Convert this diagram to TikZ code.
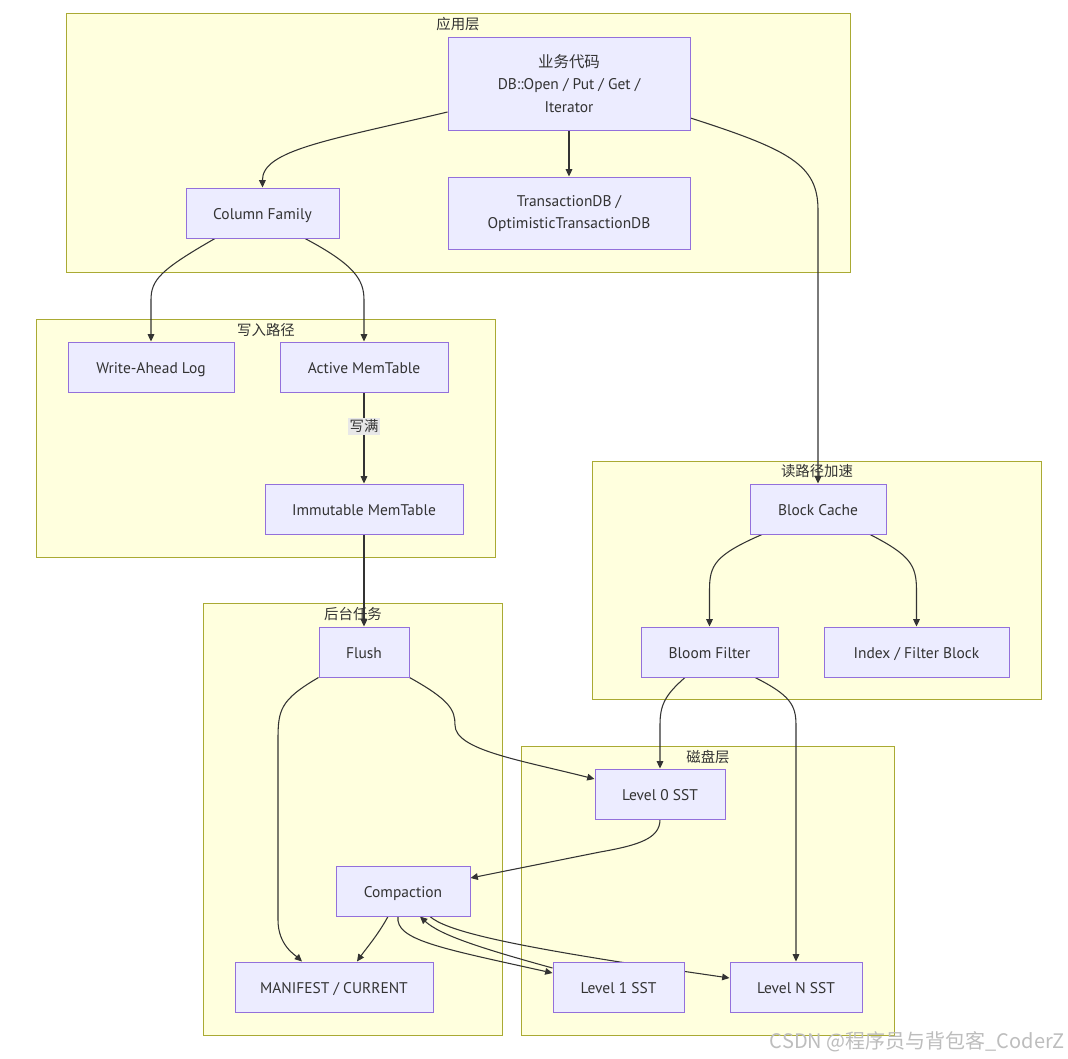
\documentclass[tikz,border=0pt]{standalone}
\usepackage{fontspec}
\setmainfont{PT Sans}
\newfontfamily\cjk{Noto Sans CJK SC}
\usetikzlibrary{arrows.meta,calc}
\definecolor{clFill}{HTML}{FFFFDE}
\definecolor{clDraw}{HTML}{AAAA33}
\definecolor{ndFill}{HTML}{ECECFF}
\definecolor{ndDraw}{HTML}{9370DB}
\definecolor{txt}{HTML}{333333}
\definecolor{lblFill}{HTML}{E8E8E8}
\definecolor{wmk}{HTML}{BDBDBD}
\pgfdeclarelayer{bg}\pgfdeclarelayer{edges}\pgfsetlayers{bg,edges,main}
\begin{document}
\begin{tikzpicture}[x=0.75pt,y=-0.75pt,
 box/.style={draw=ndDraw, fill=ndFill, line width=0.75pt, text=txt, align=center, inner sep=0pt, font=\fontsize{11.6}{16.9}\selectfont},
 one/.style={text height=1.1em, text depth=0.2em},
 sz/.style 2 args={minimum width=#1*0.75pt, minimum height=#2*0.75pt},
 cluster/.style={draw=clDraw, fill=clFill, line width=0.75pt},
 ctitle/.style={text=txt, font=\cjk\fontsize{10.8}{13}\selectfont, inner sep=0pt},
 edge/.style={draw=txt, line width=0.8pt, -{Triangle[length=5.5pt,width=5pt]}},
 elabel/.style={fill=lblFill, text=txt, font=\cjk\fontsize{10.8}{13}\selectfont, inner sep=1.5pt},
]
\begin{pgfonlayer}{bg}
\path[use as bounding box, fill=white] (0,0) rectangle (1068,1058);
% clusters
\path[cluster] (66,13) rectangle (850,272);
\path[cluster] (36,319) rectangle (495,557);
\path[cluster] (592,461) rectangle (1041,699);
\path[cluster] (203,603) rectangle (502,1035);
\path[cluster] (521,746) rectangle (894,1035);
\end{pgfonlayer}
\node[ctitle] (t1) at (458,24) {应用层};
\node[ctitle] (t2) at (266,330) {写入路径};
\node[ctitle] (t3) at (817,471) {读路径加速};
\node[ctitle] (t4) at (353,614) {后台任务};
\node[ctitle] (t5) at (708,757) {磁盘层};

% nodes
\node[box, sz={242}{93}] (app) at (569,83.5) {{\cjk 业务代码}\\DB::Open / Put / Get /\\Iterator};
\node[box, one, sz={153}{50}] (cf) at (262.5,213) {Column Family};
\node[box, sz={242}{72}] (txn) at (569,213) {\raisebox{-1.5pt}{\begin{tabular}{@{}c@{}}TransactionDB /\\OptimisticTransactionDB\end{tabular}}};
\node[box, one, sz={166}{50}] (wal) at (151,367) {Write-Ahead Log};
\node[box, one, sz={168}{50}] (act) at (364,367) {Active MemTable};
\node[box, one, sz={198}{50}] (imm) at (364,509) {Immutable MemTable};
\node[box, one, sz={136}{50}] (bc) at (818,509) {Block Cache};
\node[box, one, sz={137}{50}] (bloom) at (709.5,652) {Bloom Filter};
\node[box, one, sz={185}{50}] (idx) at (916.5,652) {Index / Filter Block};
\node[box, one, sz={90}{50}] (flush) at (364,652) {Flush};
\node[box, one, sz={130}{50}] (l0) at (660,794) {Level 0 SST};
\node[box, one, sz={134}{50}] (comp) at (403,891) {Compaction};
\node[box, one, sz={198}{50}] (man) at (334,987) {MANIFEST / CURRENT};
\node[box, one, sz={131}{50}] (l1) at (618.5,987) {Level 1 SST};
\node[box, one, sz={132}{50}] (ln) at (796,987) {Level N SST};

% edges
\begin{pgfonlayer}{edges}
\draw[edge] ($(app.west)+(0,28.5)$) .. controls (330,140) and (262,150) .. (cf.north);
\draw[edge] (app.south) -- (txn.north);
\draw[edge] ($(app.east)+(0,34.5)$) .. controls (790,150) and (818,165) .. (818,210) -- (bc.north);
\draw[edge] ($(cf.south)+(-47.5,0)$) .. controls (160,270) and (151,280) .. (151,300) -- (wal.north);
\draw[edge] ($(cf.south)+(42.5,0)$) .. controls (355,265) and (364,280) .. (364,300) -- (act.north);
\draw[edge] (act.south) -- node[elabel, pos=0.37] (lbl) {写满} (imm.north);
\draw[edge] (imm.south) -- (flush.north);
\draw[edge] ($(bc.south)+(-56,0)$) .. controls (715,555) and (709.5,565) .. (709.5,590) -- (bloom.north);
\draw[edge] ($(bc.south)+(52,0)$) .. controls (910,555) and (916.5,565) .. (916.5,590) -- (idx.north);
\draw[edge] (flush.south west) .. controls (280,700) and (278,710) .. (278,740) -- (278,920) .. controls (278,945) and (295,955) .. ($(man.north)+(-32,0)$);
\draw[edge] (flush.south east) .. controls (450,700) and (455,710) .. (455,725) .. controls (455,750) and (520,760) .. ($(l0.west)+(0,-15)$);
\draw[edge] ($(bloom.south)+(-24.5,0)$) .. controls (665,695) and (660,705) .. (660,725) -- (l0.north);
\draw[edge] ($(bloom.south)+(45.5,0)$) .. controls (790,695) and (796,705) .. (796,725) -- (ln.north);
\draw[edge] (l0.south) .. controls (660,838) and (640,845) .. (600,852) -- ($(comp.east)+(0,-13)$);
\draw[edge] ($(comp.south)+(-15,0)$) .. controls (378,935) and (365,950) .. ($(man.north)+(23,0)$);
\draw[edge] ($(comp.south)+(-5,0)$) .. controls (395,940) and (440,948) .. ($(l1.west)+(0,-14)$);
\draw[edge] ($(l1.west)+(0,-19)$) .. controls (480,948) and (440,935) .. ($(comp.south)+(17,0)$);
\draw[edge] ($(comp.south)+(27,0)$) .. controls (445,930) and (500,943) .. (620,962) -- ($(ln.west)+(0,-9)$);
\end{pgfonlayer}

\node[text=wmk, font=\cjk\fontsize{15}{18}\selectfont, anchor=east, inner sep=0pt] (wm) at (1065,1042) {CSDN @程序员与背包客\_CoderZ};
\end{tikzpicture}
\end{document}
